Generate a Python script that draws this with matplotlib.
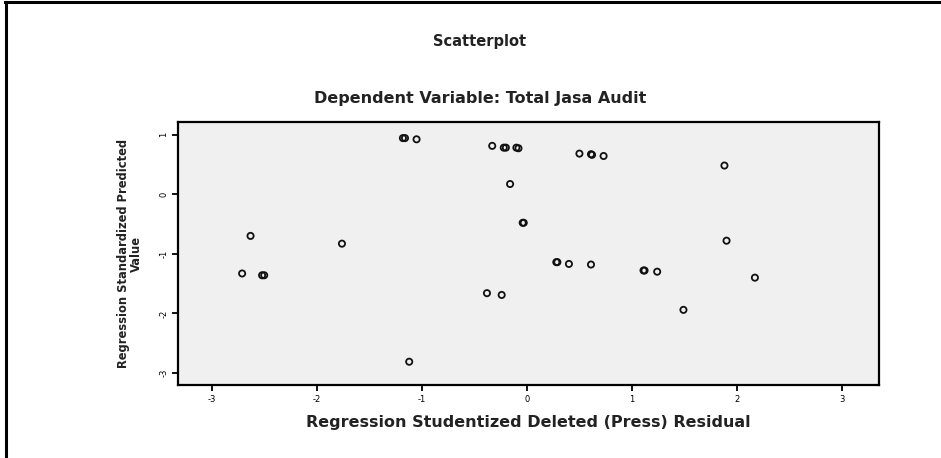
import matplotlib
matplotlib.use("Agg")
import matplotlib.pyplot as plt

# ── Data ──────────────────────────────────────────────────────────────────────
residual = [-1.18, -1.16, -1.05, -0.33, -0.22, -0.20, -0.10, -0.08, -0.16,
            -0.04, -0.03, -2.63, -1.76, -2.71, -2.52, -2.50, -0.38, -0.24,
            -1.12, 0.50, 0.61, 0.62, 0.73, 1.88, 1.90, 0.28, 0.29, 0.40,
            0.61, 1.11, 1.12, 1.24, 2.17, 1.49]
predicted = [0.94, 0.94, 0.92, 0.81, 0.78, 0.78, 0.78, 0.77, 0.17,
             -0.48, -0.48, -0.70, -0.83, -1.33, -1.36, -1.36, -1.66, -1.69,
             -2.81, 0.68, 0.67, 0.66, 0.64, 0.48, -0.78, -1.14, -1.14, -1.17,
             -1.18, -1.28, -1.28, -1.30, -1.40, -1.94]

x_ticks = [-3, -2, -1, 0, 1, 2, 3]
y_ticks = [1, 0, -1, -2, -3]

# ── Figure ────────────────────────────────────────────────────────────────────
fig = plt.figure(figsize=(9.41, 4.58), dpi=100)
fig.patch.set_facecolor("white")

# outer frame lines (top + left only)
fig.add_artist(plt.Line2D([0.005, 1.0], [0.996, 0.996], color="black", lw=2.2,
                          transform=fig.transFigure))
fig.add_artist(plt.Line2D([0.006, 0.006], [0.0, 0.996], color="black", lw=2.2,
                          transform=fig.transFigure))

ax = fig.add_axes([0.1892, 0.1594, 0.7448, 0.5742])
ax.set_facecolor("#f0f0f0")
ax.scatter(residual, predicted, s=20, facecolors="none", edgecolors="#111111",
           linewidths=1.3, zorder=3)

ax.set_xlim(-3.32, 3.35)
ax.set_ylim(-3.2, 1.21)
ax.set_xticks(x_ticks)
ax.set_yticks(y_ticks)
ax.set_xticklabels([str(t) for t in x_ticks], fontsize=6)
ax.set_yticklabels([str(t) for t in y_ticks], fontsize=6, rotation=90, va="center")
ax.tick_params(direction="out", length=4, width=1.3, pad=3)
for sp in ax.spines.values():
    sp.set_linewidth(1.6)

ax.set_xlabel("Regression Studentized Deleted (Press) Residual",
              fontsize=11.5, fontweight="bold", color="#222222", labelpad=8)
ax.set_ylabel("Regression Standardized Predicted\nValue",
              fontsize=8.3, fontweight="bold", color="#222222", labelpad=12,
              linespacing=0.95)

fig.text(0.51, 0.91, "Scatterplot", ha="center", va="center",
         fontsize=10.5, fontweight="bold", color="#222222")
fig.text(0.51, 0.786, "Dependent Variable: Total Jasa Audit", ha="center",
         va="center", fontsize=11.5, fontweight="bold", color="#222222")

fig.savefig("out.png", dpi=100)
